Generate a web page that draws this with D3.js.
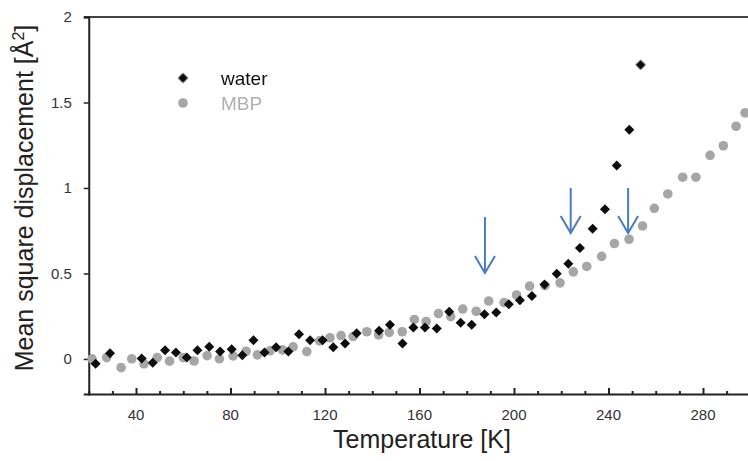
<!DOCTYPE html>
<html>
<head>
<meta charset="utf-8">
<script src="https://cdn.jsdelivr.net/npm/d3@7"></script>
<style>
  html, body { margin: 0; padding: 0; background: #fff; }
  svg { display: block; font-family: 'Liberation Sans', Arial, sans-serif; }
</style>
</head>
<body>
<div id="chart"></div>
<script>
// water (black diamonds): temperature [K] and mean square displacement [A^2]
const waterT = [22.9, 29.0, 42.4, 47.1, 52.3, 56.9, 61.5, 66.0, 71.0, 75.6, 80.5, 85.0,
  89.7, 94.4, 99.3, 104.5, 109.0, 113.7, 119.0, 123.5, 128.5, 133.4, 142.9, 147.5,
  152.8, 157.4, 162.3, 167.3, 172.6, 177.4, 182.1, 187.5, 192.5, 197.8, 202.5, 207.6,
  212.9, 218.1, 223.0, 227.9, 233.3, 238.5, 243.5, 248.8, 253.6];
const waterMsd = [-0.028, 0.034, 0.002, -0.022, 0.051, 0.037, 0.008, 0.051, 0.071, 0.043,
  0.057, 0.022, 0.110, 0.037, 0.069, 0.043, 0.144, 0.110, 0.110, 0.069, 0.090, 0.150,
  0.165, 0.200, 0.091, 0.184, 0.184, 0.178, 0.276, 0.212, 0.200, 0.261, 0.271, 0.320,
  0.344, 0.368, 0.435, 0.498, 0.557, 0.649, 0.762, 0.876, 1.131, 1.341, 1.720];

// MBP (gray circles)
const mbpT = [21.4, 27.6, 33.7, 38.2, 43.4, 49.0, 54.2, 60.0, 64.6, 70.1, 75.3, 81.1,
  86.6, 91.4, 96.7, 102.0, 106.5, 112.3, 117.7, 122.1, 126.8, 131.9, 137.7, 142.7,
  147.2, 152.7, 157.8, 162.8, 168.0, 173.2, 178.3, 184.0, 189.3, 195.8, 201.1, 206.6,
  213.1, 219.5, 225.1, 230.8, 237.1, 242.5, 248.7, 254.4, 259.4, 265.1, 271.4, 277.0,
  283.0, 288.6, 294.0, 297.8];
const mbpMsd = [0.001, 0.008, -0.051, 0.001, -0.029, 0.008, -0.013, 0.008, -0.012, 0.019,
  0.001, 0.018, 0.045, 0.024, 0.047, 0.053, 0.071, 0.043, 0.106, 0.124, 0.137, 0.131,
  0.159, 0.141, 0.155, 0.159, 0.231, 0.219, 0.265, 0.247, 0.292, 0.279, 0.339, 0.330,
  0.374, 0.426, 0.429, 0.445, 0.509, 0.541, 0.600, 0.675, 0.700, 0.778, 0.881, 0.965,
  1.063, 1.063, 1.191, 1.247, 1.361, 1.439];

// blue arrows marking transitions
const arrowT = [187.7, 224.0, 248.3];
const arrowFrom = [0.83, 1.0, 1.0];
const arrowTo = [0.503, 0.737, 0.737];

const xTickLabels = [40, 80, 120, 160, 200, 240, 280];
const yTickLabels = [0, 0.5, 1, 1.5, 2];

const width = 748;
const height = 461;

const svg = d3.select('#chart')
  .append('svg')
  .attr('width', width)
  .attr('height', height);

const defs = svg.append('defs');
defs.append('filter')
  .attr('id', 'soft')
  .append('feGaussianBlur')
  .attr('stdDeviation', 0.5);

const x = d3.scaleLinear().domain([20, 300]).range([88.75, 750.25]);
const y = d3.scaleLinear().domain([-0.205, 2]).range([394, 17]);

// frame: top line, left axis, bottom axis
svg.append('line')
  .attr('x1', 84).attr('x2', width).attr('y1', y(2)).attr('y2', y(2))
  .attr('stroke', '#444').attr('stroke-width', 2);

// x axis with inward ticks every 10 K, labels every 40 K
const xAxis = svg.append('g')
  .attr('transform', `translate(0,${y(-0.205)})`)
  .call(d3.axisBottom(x)
    .tickValues(d3.range(30, 300, 10))
    .tickSize(-3)
    .tickFormat(''));
xAxis.select('.domain').attr('stroke', '#222').attr('stroke-width', 2);
xAxis.selectAll('.tick line')
  .attr('stroke', '#222')
  .attr('stroke-width', 2)
  .attr('y2', (d) => (d % 40 === 0 ? -6 : -3));

svg.append('g')
  .selectAll('text')
  .data(xTickLabels)
  .join('text')
  .attr('x', (d) => x(d))
  .attr('y', 420)
  .attr('text-anchor', 'middle')
  .attr('font-size', 15)
  .attr('fill', '#333')
  .text((d) => d);

// y axis with outward ticks
const yAxis = svg.append('g')
  .attr('transform', `translate(${x(20)},0)`)
  .call(d3.axisLeft(y)
    .tickValues(yTickLabels)
    .tickSize(5)
    .tickPadding(12)
    .tickFormat((d) => d));
yAxis.select('.domain').attr('stroke', '#222').attr('stroke-width', 2);
yAxis.selectAll('.tick line').attr('stroke', '#222').attr('stroke-width', 1.5);
yAxis.selectAll('.tick text')
  .attr('font-size', 15)
  .attr('fill', '#333')
  .attr('font-family', "'Liberation Sans', Arial, sans-serif");

// axis titles
svg.append('text')
  .attr('x', 422)
  .attr('y', 448)
  .attr('text-anchor', 'middle')
  .attr('font-size', 25)
  .attr('fill', '#222')
  .text('Temperature [K]');

const yTitle = svg.append('text')
  .attr('transform', 'translate(33,198) rotate(-90)')
  .attr('text-anchor', 'middle')
  .attr('font-size', 25)
  .attr('fill', '#222');
yTitle.append('tspan').text('Mean square displacement [Å');
yTitle.append('tspan').attr('font-size', 16).attr('dy', -9).text('2');
yTitle.append('tspan').attr('dy', 9).text(']');

// data points
const mbpData = mbpT.map((t, i) => ({ t, v: mbpMsd[i] }));
const waterData = waterT.map((t, i) => ({ t, v: waterMsd[i] }));

const marks = svg.append('g').attr('filter', 'url(#soft)');

marks.append('g')
  .selectAll('circle')
  .data(mbpData)
  .join('circle')
  .attr('cx', (d) => x(d.t))
  .attr('cy', (d) => y(d.v))
  .attr('r', 4.8)
  .attr('fill', '#a6a6a6');

const diamond = d3.symbol().type(d3.symbolSquare).size(50);
marks.append('g')
  .selectAll('path')
  .data(waterData)
  .join('path')
  .attr('d', diamond)
  .attr('transform', (d) => `translate(${x(d.t)},${y(d.v)}) rotate(45)`)
  .attr('fill', '#0a0a0a');

// legend
const legend = svg.append('g');
legend.append('path')
  .attr('d', diamond)
  .attr('transform', 'translate(183,78) rotate(45)')
  .attr('fill', '#0a0a0a')
  .attr('filter', 'url(#soft)');
legend.append('text')
  .attr('x', 221).attr('y', 84.5)
  .attr('font-size', 19).attr('fill', '#111')
  .text('water');
legend.append('circle')
  .attr('cx', 183).attr('cy', 103).attr('r', 4.8)
  .attr('fill', '#a6a6a6')
  .attr('filter', 'url(#soft)');
legend.append('text')
  .attr('x', 221).attr('y', 109.5)
  .attr('font-size', 19).attr('fill', '#b0b0b0')
  .text('MBP');

// arrows
const arrows = svg.append('g')
  .attr('stroke', '#4a7cc0')
  .attr('stroke-width', 2)
  .attr('fill', 'none');
arrowT.forEach((t, i) => {
  const ax = x(t);
  const tip = y(arrowTo[i]);
  arrows.append('line')
    .attr('x1', ax).attr('x2', ax)
    .attr('y1', y(arrowFrom[i])).attr('y2', tip);
  arrows.append('path')
    .attr('d', `M${ax - 10},${tip - 17} L${ax},${tip} L${ax + 10},${tip - 17}`);
});
</script>
</body>
</html>
